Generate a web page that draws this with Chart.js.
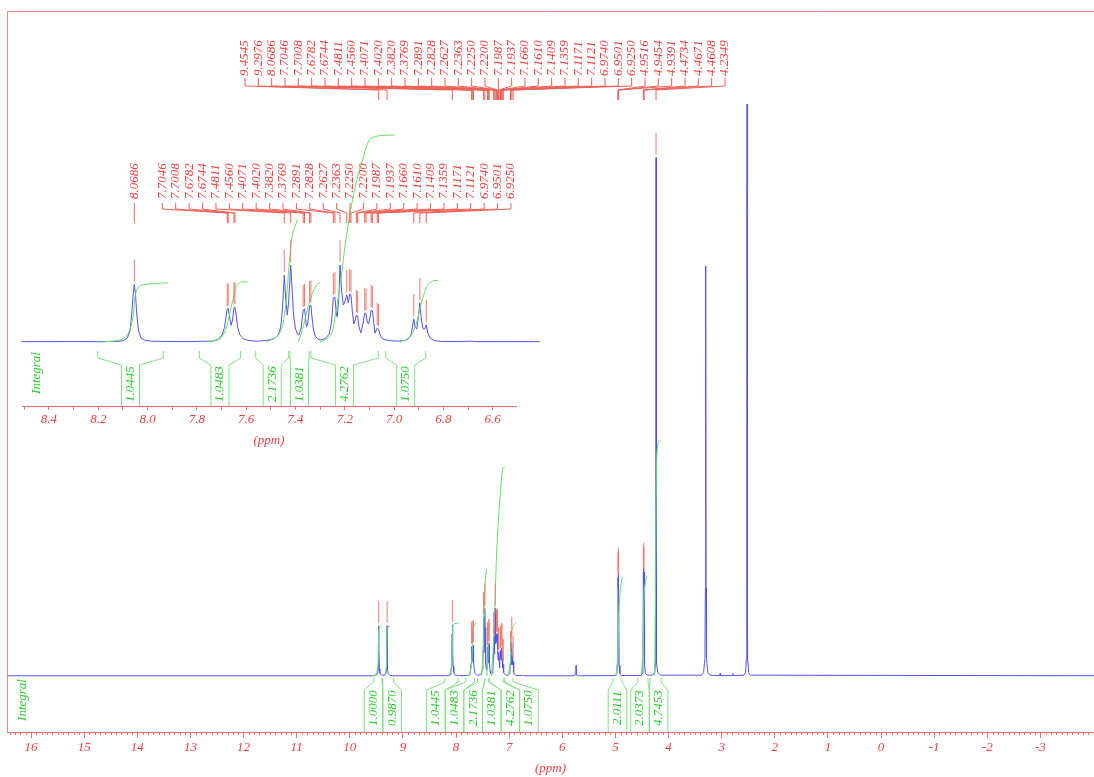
<!DOCTYPE html>
<html>
<head>
<meta charset="utf-8">
<script src="https://cdn.jsdelivr.net/npm/chart.js@4.4.1/dist/chart.umd.min.js"></script>
<style>
  html, body { margin: 0; padding: 0; background: #ffffff; }
  #wrap { position: relative; width: 1094px; height: 777px; overflow: hidden; background: #ffffff; }
  #wrap canvas { position: absolute; left: 0; top: 0; }
</style>
</head>
<body>
<div id="wrap">
  <canvas id="mainCanvas" width="1094" height="777"></canvas>
  <canvas id="insetCanvas" width="1094" height="777"></canvas>
</div>
<script>
// ---------------- spectrum data: chemical shift (ppm) / intensity ----------------
const shiftBase = [16.46, -4.02];
const intBase   = [0.3, 0.3];

// NH singlets
const shiftNH = [9.60, 9.50, 9.475, 9.465, 9.459, 9.4545, 9.450, 9.444, 9.434, 9.41, 9.38,
                 9.34, 9.318, 9.308, 9.302, 9.2976, 9.293, 9.287, 9.277, 9.25, 9.20];
const intNH   = [0.3, 1, 3, 8, 30, 57, 30, 8, 3, 1.2, 0.8,
                 1.2, 3, 8, 30, 57, 30, 8, 3, 1, 0.3];

// aromatic region 8.5 - 6.5 ppm
const shiftArom = [8.51, 8.30, 8.20, 8.13, 8.11, 8.096, 8.085, 8.078, 8.073, 8.0686, 8.064, 8.059, 8.052, 8.042, 8.027, 8.00, 7.95, 7.85,
  7.76, 7.74, 7.725, 7.715, 7.709, 7.7046, 7.7008, 7.696, 7.6895, 7.684, 7.6782, 7.6744, 7.670, 7.664, 7.655, 7.64, 7.62, 7.59,
  7.55, 7.52, 7.505, 7.495, 7.488, 7.4811, 7.476, 7.4695, 7.464, 7.456, 7.451, 7.445, 7.438, 7.43, 7.424,
  7.415, 7.4095, 7.4071, 7.4020, 7.398, 7.3945, 7.389, 7.3820, 7.3769, 7.373, 7.367, 7.36, 7.35, 7.34,
  7.32, 7.305, 7.296, 7.2891, 7.2828, 7.278, 7.274, 7.268, 7.2627, 7.257, 7.25, 7.244, 7.2363, 7.230, 7.2250, 7.2200, 7.215, 7.209, 7.203, 7.1987,
  7.1937, 7.189, 7.1815, 7.173, 7.1660, 7.1610, 7.156, 7.151, 7.146, 7.1409, 7.1359, 7.131, 7.126, 7.1171, 7.1121, 7.107, 7.10, 7.09, 7.07, 7.04,
  7.01, 6.995, 6.985, 6.979, 6.9740, 6.968, 6.962, 6.956, 6.9501, 6.944, 6.9375, 6.931, 6.9250, 6.919, 6.91, 6.895, 6.87, 6.80, 6.75, 6.73, 6.60, 6.48];
const intArom = [0.3, 0.4, 0.3, 0.6, 1.5, 4, 11, 30, 48, 57.7, 48, 28, 11, 4, 1.8, 0.8, 0.5, 0.4,
  1, 2.5, 7, 15, 26, 33, 33.5, 26, 16.7, 22, 34.5, 35, 28, 15, 7, 3, 1.5, 0.8,
  1.5, 3.5, 7, 15, 35, 67, 45, 27, 40, 77, 55, 28, 14, 8, 7,
  14, 27, 32, 33, 25, 15, 19, 36, 36.7, 26, 13, 6, 3, 2,
  3.5, 8, 20, 44, 45, 30, 25, 42, 77, 52, 37, 40, 47, 39, 48, 47, 32, 18, 22, 27,
  26, 16, 9, 18, 29, 28, 20, 18, 24, 32, 31, 20, 9, 14, 13, 8, 4, 2.5, 1.5, 0.8,
  1.5, 3, 7, 15, 23, 15, 13, 25, 39, 22, 13, 13, 17, 9, 4, 1.5, 0.6, 0.4, 0.8, 0.3, 0.3, 0.3];

// aliphatic region, water and DMSO
const shiftAliph = [5.80, 5.755, 5.745, 5.741, 5.737, 5.727, 5.70,
  5.00, 4.975, 4.962, 4.9516, 4.948, 4.9454, 4.942, 4.9391, 4.929, 4.915, 4.89,
  4.52, 4.495, 4.482, 4.4734, 4.470, 4.4671, 4.464, 4.4608, 4.451, 4.435, 4.40,
  4.30, 4.26, 4.246, 4.239, 4.2349, 4.231, 4.224, 4.20, 4.15,
  3.38, 3.34, 3.315, 3.306, 3.300, 3.294, 3.285, 3.26, 3.22,
  3.04, 3.03, 3.02, 2.80, 2.79, 2.78,
  2.58, 2.55, 2.535, 2.527, 2.522, 2.517, 2.509, 2.49, 2.46];
const intAliph = [0.3, 1.5, 6, 12, 6, 1.5, 0.3,
  0.5, 3, 12, 112, 100, 118, 100, 112, 12, 3, 0.6,
  0.5, 3, 12, 118, 105, 123, 105, 118, 12, 3, 1,
  1, 4, 15, 120, 589, 120, 15, 4, 1,
  1, 4, 20, 100, 466, 100, 20, 4, 1,
  0.5, 3, 0.5, 0.5, 3, 0.5,
  1, 4, 20, 100, 650, 100, 20, 4, 1];

// picked peaks
const mainPeakShifts = [9.4545, 9.2976, 8.0686, 7.7046, 7.7008, 7.6782, 7.6744, 7.4811, 7.4560, 7.4071, 7.4020,
  7.3820, 7.3769, 7.2891, 7.2828, 7.2627, 7.2363, 7.2250, 7.2200, 7.1987, 7.1937, 7.1660, 7.1610, 7.1409,
  7.1359, 7.1171, 7.1121, 6.9740, 6.9501, 6.9250, 4.9516, 4.9454, 4.9391, 4.4734, 4.4671, 4.4608, 4.2349];
const insetPeakShifts = mainPeakShifts.slice(2, 30);

// integration regions
const integralStart = [9.553, 9.380, 8.212, 7.814, 7.593, 7.459, 7.377, 7.084, 5.045, 4.574, 4.348];
const integralEnd   = [9.395, 9.180, 7.955, 7.652, 7.464, 7.384, 7.113, 6.927, 4.875, 4.386, 4.141];
const integralValue = [1.0000, 0.9870, 1.0445, 1.0483, 2.1736, 1.0381, 4.2762, 1.0750, 2.0111, 2.0373, 4.7453];

// integral curves, full spectrum
const mainCurveShift = [
  [9.58, 9.506, 9.47, 9.455, 9.44, 9.399], [9.34, 9.31, 9.298, 9.28, 9.234],
  [8.13, 8.08, 8.062, 8.04, 7.938], [7.75, 7.70, 7.686, 7.66, 7.624],
  [7.52, 7.49, 7.473, 7.45, 7.422], [7.42, 7.40, 7.392, 7.37, 7.347],
  [7.33, 7.28, 7.234, 7.17, 7.121, 7.078], [7.016, 6.975, 6.952, 6.92, 6.875],
  [4.99, 4.955, 4.937, 4.91, 4.87], [4.51, 4.48, 4.456, 4.43, 4.405], [4.26, 4.24, 4.225, 4.20, 4.141]];
const mainCurveRise = [
  [0, 1, 12, 45, 49, 50], [0, 10, 45, 49, 50],
  [0, 10, 48, 52, 53], [0, 15, 45, 50, 53],
  [0, 20, 59, 95, 107], [0, 20, 46, 51, 53],
  [0, 50, 125, 180, 208, 209], [0, 15, 45, 50, 53],
  [0, 20, 58, 85, 99], [0, 30, 85, 96, 100], [0, 120, 210, 232, 236]];

// integral curves, expanded aromatic view
const insetCurveShift = [
  [8.203, 8.1246, 8.0933, 8.0737, 8.0659, 8.0529, 8.0333, 7.9942, 7.9354],
  [7.785, 7.7329, 7.7094, 7.6937, 7.6781, 7.6675, 7.6479, 7.6244],
  [7.55, 7.5046, 7.485, 7.4717, 7.4587, 7.447, 7.4286],
  [7.4262, 7.409, 7.3933, 7.3737, 7.3542, 7.3412],
  [7.3412, 7.2987, 7.2791, 7.2595, 7.2462, 7.2294, 7.2137, 7.1941, 7.1745, 7.1483, 7.1158, 7.0492],
  [7.0279, 6.9887, 6.9624, 6.9429, 6.9233, 6.9037, 6.8778]];
const insetCurveRise = [
  [0, 2, 8, 25, 45, 55, 57.3, 58.3, 59.3],
  [0, 3.3, 13.3, 30, 46.7, 56.7, 60, 60],
  [0, 6.7, 20, 46.7, 88, 110, 122.7],
  [0, 13.3, 30, 46.7, 57.3, 59.3],
  [0, 6.7, 30, 62, 90, 120, 142, 165, 182, 202, 206, 207],
  [0, 5, 20, 40, 55, 60.7, 61.7]];

// axis tick labels
const mainTickLabels  = [16, 15, 14, 13, 12, 11, 10, 9, 8, 7, 6, 5, 4, 3, 2, 1, 0, -1, -2, -3];
const insetTickLabels = [8.4, 8.2, 8.0, 7.8, 7.6, 7.4, 7.2, 7.0, 6.8, 6.6];

// ---------------- styling ----------------
const SERIF = '"Liberation Serif", "Times New Roman", serif';
const RED_TEXT = 'rgb(238,62,62)';
const AXIS = 'rgb(242,112,104)';
const RED_LINE = 'rgb(240,96,86)';
const RED_MARK = 'rgb(242,122,112)';
const FRAME = 'rgb(240,140,130)';
const BLUE = 'rgb(84,84,236)';
const GREEN_CURVE = 'rgb(100,226,100)';
const GREEN_LINE = 'rgb(128,226,128)';
const GREEN_TEXT = 'rgb(40,205,40)';
const fontCss = (sz) => 'italic ' + sz + 'px ' + SERIF;

// ---------------- helpers ----------------
function toPoints(xs, ys) { return xs.map((x, i) => ({ x: x, y: ys[i] })); }

const spectrum = []
  .concat(toPoints(shiftBase, intBase), toPoints(shiftNH, intNH),
          toPoints(shiftArom, intArom), toPoints(shiftAliph, intAliph))
  .sort((a, b) => b.x - a.x);

function valueAt(pts, p) {
  for (let i = 0; i < pts.length - 1; i++) {
    const a = pts[i], b = pts[i + 1];
    if (p <= a.x && p >= b.x) {
      const t = a.x === b.x ? 0 : (a.x - p) / (a.x - b.x);
      return a.y + (b.y - a.y) * t;
    }
  }
  return 0;
}

// keep integral label columns from overlapping: clustered columns centred on their regions
function spreadSlots(centers, w) {
  const order = centers.map((c, i) => i).sort((a, b) => centers[a] - centers[b]);
  let groups = order.map(i => ({ members: [i], c: centers[i] }));
  let merged = true;
  while (merged) {
    merged = false;
    for (let g = 0; g < groups.length - 1; g++) {
      const A = groups[g], B = groups[g + 1];
      if (A.c + A.members.length * w / 2 > B.c - B.members.length * w / 2) {
        const members = A.members.concat(B.members);
        const c = members.reduce((s, i) => s + centers[i], 0) / members.length;
        groups.splice(g, 2, { members: members, c: c });
        merged = true;
        break;
      }
    }
  }
  const out = new Array(centers.length);
  groups.forEach(G => {
    const n = G.members.length;
    G.members.forEach((i, k) => { out[i] = G.c + (k - (n - 1) / 2) * w; });
  });
  return out;
}

function rotatedText(ctx, text, x, y, align) {
  ctx.save();
  ctx.translate(x, y);
  ctx.rotate(-Math.PI / 2);
  ctx.textAlign = align;
  ctx.textBaseline = 'middle';
  ctx.fillText(text, 0, 0);
  ctx.restore();
}

function drawPeakPicks(ctx, xs, ys, shifts, labelX, g) {
  ctx.save();
  ctx.lineWidth = 1;
  shifts.forEach((p, i) => {
    const px = xs.getPixelForValue(p);
    const lx = labelX(i, px);
    ctx.strokeStyle = RED_LINE;
    ctx.beginPath();
    ctx.moveTo(lx, g.y0); ctx.lineTo(lx, g.y1); ctx.lineTo(px, g.y2); ctx.lineTo(px, g.y3);
    ctx.stroke();
    const py = ys.getPixelForValue(valueAt(spectrum, p));
    ctx.strokeStyle = RED_MARK;
    ctx.beginPath();
    ctx.moveTo(px, py - 3); ctx.lineTo(px, py - 25);
    ctx.stroke();
  });
  ctx.fillStyle = RED_TEXT;
  ctx.font = fontCss(13);
  shifts.forEach((p, i) => {
    const px = xs.getPixelForValue(p);
    rotatedText(ctx, p.toFixed(4), labelX(i, px), g.textBottom, 'left');
  });
  ctx.restore();
}

function drawIntegralBrackets(ctx, xs, idx, w, g) {
  const centers = idx.map(i => (xs.getPixelForValue(integralStart[i]) + xs.getPixelForValue(integralEnd[i])) / 2);
  const slots = spreadSlots(centers, w);
  ctx.save();
  ctx.lineWidth = 1;
  ctx.strokeStyle = GREEN_LINE;
  idx.forEach((i, k) => {
    const xl = xs.getPixelForValue(integralStart[i]);
    const xr = xs.getPixelForValue(integralEnd[i]);
    const c = slots[k];
    [[xl, c - w / 2], [xr, c + w / 2]].forEach(([outer, inner]) => {
      ctx.beginPath();
      ctx.moveTo(outer, g.top); ctx.lineTo(outer, g.bend1);
      ctx.lineTo(inner, g.bend2); ctx.lineTo(inner, g.bottom);
      ctx.stroke();
    });
  });
  ctx.fillStyle = GREEN_TEXT;
  ctx.font = fontCss(13);
  idx.forEach((i, k) => rotatedText(ctx, integralValue[i].toFixed(4), slots[k], g.textY, 'center'));
  rotatedText(ctx, 'Integral', g.wordX, g.wordY, 'center');
  ctx.restore();
}

// ---------------- full spectrum ----------------
const mainDecor = {
  id: 'mainDecor',
  afterDatasetsDraw(chart) {
    const ctx = chart.ctx, a = chart.chartArea;
    const xs = chart.scales.x, ys = chart.scales.y;
    ctx.save();
    ctx.strokeStyle = FRAME;
    ctx.lineWidth = 1;
    ctx.beginPath();
    ctx.moveTo(a.left + 0.5, a.bottom); ctx.lineTo(a.left + 0.5, a.top + 0.5); ctx.lineTo(a.right, a.top + 0.5);
    ctx.stroke();
    ctx.restore();
    drawIntegralBrackets(ctx, xs, integralValue.map((v, i) => i), 18.6,
      { top: 678, bend1: 682, bend2: 690, bottom: a.bottom, textY: 708, wordX: 23, wordY: 700 });
    drawPeakPicks(ctx, xs, ys, mainPeakShifts, (i) => 245 + i * 13.333,
      { y0: 78, y1: 86, y2: 90, y3: 100, textBottom: 76 });
  },
  afterDraw(chart) {
    const ctx = chart.ctx, xs = chart.scales.x, a = chart.chartArea;
    ctx.save();
    ctx.strokeStyle = AXIS;
    ctx.lineWidth = 1;
    ctx.beginPath();
    for (let k = Math.ceil(xs.min * 10); k <= Math.floor(xs.max * 10); k++) {
      if (k % 10 === 0) continue;
      const x = Math.round(xs.getPixelForValue(k / 10)) + 0.5;
      ctx.moveTo(x, a.bottom); ctx.lineTo(x, a.bottom + 3);
    }
    ctx.stroke();
    ctx.restore();
  }
};

const mainDatasets = [{
  data: spectrum, xAxisID: 'x', yAxisID: 'y', borderColor: BLUE, borderWidth: 1,
  pointRadius: 0, tension: 0, fill: false, clip: false, order: 2
}].concat(mainCurveShift.map((s, i) => ({
  data: toPoints(s, mainCurveRise[i]), xAxisID: 'x', yAxisID: 'yi', borderColor: GREEN_CURVE,
  borderWidth: 1, pointRadius: 0, tension: 0.3, fill: false, clip: false, order: 1
})));

new Chart(document.getElementById('mainCanvas'), {
  type: 'line',
  data: { datasets: mainDatasets },
  options: {
    responsive: false, animation: false, events: [], devicePixelRatio: 1,
    layout: { padding: { left: 7, top: 11, right: 0, bottom: 0 }, autoPadding: false },
    plugins: { legend: { display: false }, tooltip: { enabled: false } },
    scales: {
      x: {
        type: 'linear', position: 'bottom', reverse: true, min: -4.009, max: 16.452,
        afterFit(s) { s.height = 45; },
        afterBuildTicks(s) { s.ticks = mainTickLabels.map(v => ({ value: v })); },
        ticks: { autoSkip: false, maxRotation: 0, minRotation: 0, padding: 2, color: RED_TEXT,
                 font: { family: SERIF, style: 'italic', size: 13 }, callback: (v) => String(v) },
        grid: { drawOnChartArea: false, drawTicks: true, tickLength: 6, tickColor: AXIS, tickWidth: 1 },
        border: { display: true, color: AXIS, width: 1 },
        title: { display: true, text: '(ppm)', color: RED_TEXT,
                 font: { family: SERIF, style: 'italic', size: 13 }, padding: { top: 0, bottom: 1 } }
      },
      y: { display: false, min: -63.6, max: 755.7 },
      yi: { display: false, min: -56, max: 665 }
    }
  },
  plugins: [mainDecor]
});

// ---------------- expanded aromatic view ----------------
const insetDecor = {
  id: 'insetDecor',
  afterDatasetsDraw(chart) {
    const ctx = chart.ctx, a = chart.chartArea;
    const xs = chart.scales.xd, ys = chart.scales.y;
    drawIntegralBrackets(ctx, xs, [2, 3, 4, 5, 6, 7], 18,
      { top: 351, bend1: 358, bend2: 365, bottom: a.bottom, textY: 384, wordX: 37, wordY: 373 });
    drawPeakPicks(ctx, xs, ys, insetPeakShifts, (i, px) => (i === 0 ? px : 162.3 + (i - 1) * 13.41),
      { y0: 203, y1: 209, y2: 213, y3: 223, textBottom: 199 });
  }
};

const insetSpectrum = spectrum.filter(p => p.x <= 8.51 && p.x >= 6.48);
const insetDatasets = [{
  data: insetSpectrum, xAxisID: 'xd', yAxisID: 'y', borderColor: BLUE, borderWidth: 1,
  pointRadius: 0, tension: 0, fill: false, clip: false, order: 2
}].concat(insetCurveShift.map((s, i) => ({
  data: toPoints(s, insetCurveRise[i]), xAxisID: 'xd', yAxisID: 'y', borderColor: GREEN_CURVE,
  borderWidth: 1, pointRadius: 0, tension: 0.3, fill: false, clip: false, order: 1
})));

new Chart(document.getElementById('insetCanvas'), {
  type: 'line',
  data: { datasets: insetDatasets },
  options: {
    responsive: false, animation: false, events: [], devicePixelRatio: 1,
    layout: { padding: { left: 22, top: 130, right: 578, bottom: 326 }, autoPadding: false },
    plugins: { legend: { display: false }, tooltip: { enabled: false } },
    scales: {
      x: {
        type: 'linear', position: 'bottom', reverse: true, min: 6.5055, max: 8.5095,
        afterFit(s) { s.height = 45; },
        afterBuildTicks(s) {
          const t = [];
          for (let k = 65; k <= 85; k++) { const v = k / 10; if (v >= s.min && v <= s.max) t.push({ value: v }); }
          s.ticks = t;
        },
        ticks: { autoSkip: false, maxRotation: 0, minRotation: 0, padding: 2, color: RED_TEXT,
                 font: { family: SERIF, style: 'italic', size: 13 },
                 callback: (v) => insetTickLabels.some(t => Math.abs(t - v) < 1e-6) ? v.toFixed(1) : '' },
        grid: { drawOnChartArea: false, drawTicks: true, tickLength: 4, tickColor: AXIS, tickWidth: 1 },
        border: { display: true, color: AXIS, width: 1 },
        title: { display: true, text: '(ppm)', color: RED_TEXT,
                 font: { family: SERIF, style: 'italic', size: 13 }, padding: { top: 0, bottom: 2.5 } }
      },
      xd: { type: 'linear', display: false, reverse: true, min: 6.5735, max: 8.5085 },
      y: { display: false, min: -64, max: 212 }
    }
  },
  plugins: [insetDecor]
});
</script>
</body>
</html>
